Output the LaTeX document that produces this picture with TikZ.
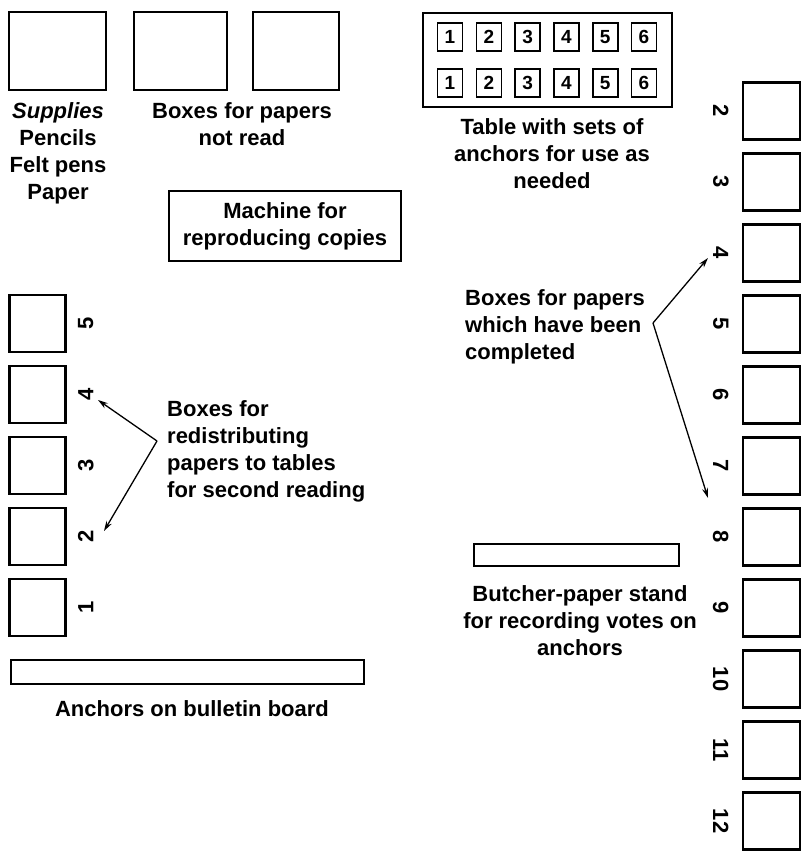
\documentclass[tikz,border=0pt]{standalone}
\usepackage{fontspec}
\setmainfont{Liberation Sans}
\usetikzlibrary{positioning,arrows.meta}
\newcommand{\lblsize}{\fontsize{22}{27}\selectfont\bfseries}
\tikzset{
  bin/.style={draw,line width=2.4pt,minimum width=57pt,minimum height=57pt,inner sep=0pt},
  >={Stealth[length=10pt,width=6pt]},
}

\begin{document}
\begin{tikzpicture}[
  x=1pt,y=-1pt,
  every node/.style={font=\lblsize},
  lbl/.style={align=center,inner sep=0pt},
  num/.style={inner sep=0pt},
  tile/.style={draw,line width=1.6pt,minimum width=25pt,minimum height=28pt,inner sep=0pt,
    font=\fontsize{19}{20}\selectfont\bfseries},
  node distance=11.6pt
]
\useasboundingbox (0,0) rectangle (804,851);

% supplies and unread papers
\node[bin,minimum width=97pt,minimum height=78pt] (sup) at (57.5,51) {};
\node[bin,minimum width=93pt,minimum height=78pt] (nr1) at (180.5,51) {};
\node[bin,minimum width=86pt,minimum height=78pt] (nr2) at (296,51) {};
\node[lbl,anchor=north] (suptxt) at (58,102) {\textit{Supplies}\\Pencils\\Felt pens\\Paper};
\node[lbl,anchor=north] (nrtxt) at (242,102) {Boxes for papers\\not read};

\node[draw,line width=2pt,minimum width=232pt,minimum height=70pt,align=center,inner sep=0pt] (mach) at (285,226) {Machine for\\reproducing copies};

% table with the anchor sets
\node[draw,line width=2.4pt,minimum width=249pt,minimum height=94pt] (tab) at (547.5,60) {};
\foreach \i in {1,...,6} {
  \node[tile] (ta\i) at ({450+38.8*(\i-1)},37) {\i};
  \node[tile] (tb\i) at ({450+38.8*(\i-1)},83) {\i};
}
\node[lbl,anchor=north] (tabtxt) at (552,118) {Table with sets of\\anchors for use as\\needed};

% completed papers, right wall
\node[bin] (r2) at (771.5,111) {};
\foreach \n [count=\k from 2] in {3,...,12}
  \node[bin,below=of r\k] (r\n) {};
\foreach \n in {2,...,12}
  \node[num,rotate=-90] (rn\n) at ([xshift=-21pt]r\n.west) {\n};

% redistribution, left wall
\node[bin,minimum width=56pt] (l5) at (37.5,323.5) {};
\foreach \n [evaluate=\n as \k using int(\n+1)] in {4,3,2,1}
  \node[bin,minimum width=56pt,below=of l\k] (l\n) {};
\foreach \n in {1,...,5}
  \node[num,rotate=90] (ln\n) at ([xshift=19pt]l\n.east) {\n};

\node[lbl,align=left,anchor=north west] (redtxt) at (167,400) {Boxes for\\redistributing\\papers to tables\\for second reading};
\coordinate (jl) at (157,441);
\coordinate (tl4) at (98,400);
\coordinate (tl2) at (104,531);
\draw[->,line width=1.3pt] (jl) -- (tl4);
\draw[->,line width=1.3pt] (jl) -- (tl2);

\node[lbl,align=left,anchor=north west] (donetxt) at (465,289) {Boxes for papers\\which have been\\completed};
\coordinate (jr) at (653,323);
\coordinate (tr4) at (708,258);
\coordinate (tr8) at (708,498);
\draw[->,line width=1.3pt] (jr) -- (tr4);
\draw[->,line width=1.3pt] (jr) -- (tr8);

% stand and bulletin board
\node[draw,line width=2pt,minimum width=205pt,minimum height=22pt] (stand) at (576.5,555) {};
\node[lbl,anchor=north] (standtxt) at (580,585) {Butcher-paper stand\\for recording votes on\\anchors};
\node[draw,line width=2.4pt,minimum width=353pt,minimum height=24pt] (board) at (187.5,672) {};
\node[lbl,anchor=north] (boardtxt) at (192,700) {Anchors on bulletin board};

\end{tikzpicture}
\end{document}
